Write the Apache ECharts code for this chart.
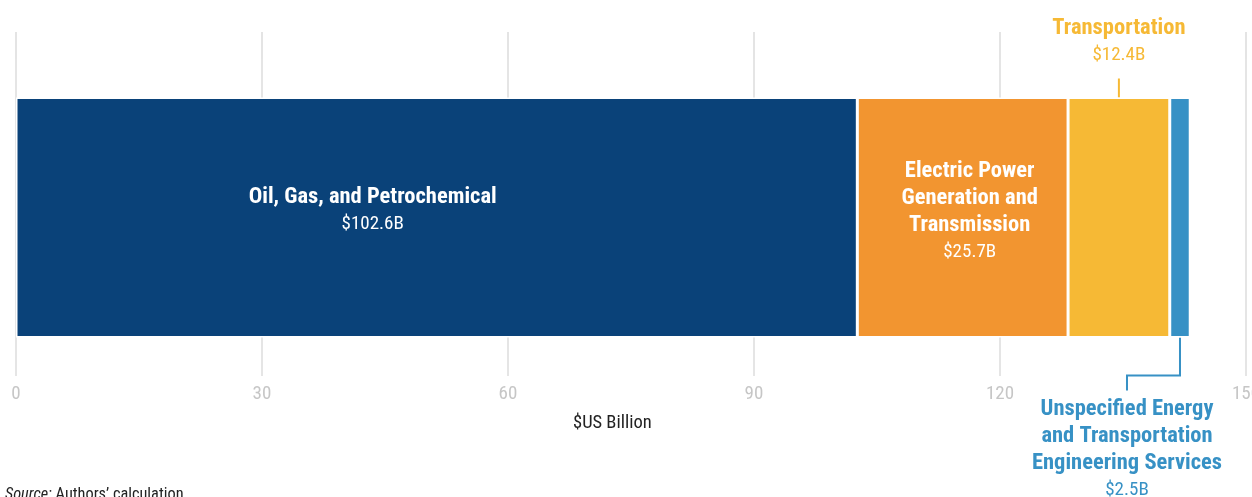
<!DOCTYPE html>
<html>
<head>
<meta charset="utf-8">
<script src="https://cdn.jsdelivr.net/npm/echarts@6/dist/echarts.min.js"></script>
<style>
  html, body { margin: 0; padding: 0; background: #fff; }
  #chart { width: 1252px; height: 497px; }
</style>
</head>
<body>
<div id="chart"></div>
<script>
// data
const categories = ['Total']
const sectors = [
  'Oil, Gas, and Petrochemical',
  'Electric Power\nGeneration and\nTransmission',
  'Transportation',
  'Unspecified Energy\nand Transportation\nEngineering Services'
]
const values = [102.6, 25.7, 12.4, 2.5]
const colors = ['#0a4279', '#f29530', '#f6b935', '#3791c5']
const xTicks = [0, 30, 60, 90, 120, 150]

const FONT = "'Roboto Condensed', 'Roboto', sans-serif"

// label placement per sector
const labelCfg = [
  { position: 'inside', offset: [-64, -7], color: '#fff' },
  { position: 'inside', offset: [7, -6], color: '#fff' },
  { position: 'top', offset: [0, 0], distance: 29, color: '#f6b935' },
  { position: 'bottom', offset: [-53, 0], distance: 58, color: '#3791c5' }
]

const chart = echarts.init(document.getElementById('chart'))

const series = values.map((v, i) => ({
  name: sectors[i],
  type: 'bar',
  stack: 'total',
  barWidth: 240,
  data: [v],
  itemStyle: { color: colors[i], borderColor: '#fff', borderWidth: 1.5 },
  label: {
    show: true,
    position: labelCfg[i].position,
    offset: labelCfg[i].offset,
    distance: labelCfg[i].distance || 5,
    align: 'center',
    formatter: () => '{b|' + sectors[i].split('\n').join('}\n{b|') + '}\n{v|$' + v + 'B}',
    rich: {
      b: { fontFamily: FONT, fontWeight: 'bold', fontSize: 22.5, lineHeight: 27, color: labelCfg[i].color },
      v: { fontFamily: FONT, fontSize: 19, lineHeight: 27, color: labelCfg[i].color }
    }
  },
  animation: false
}))

const tickFmt = v => xTicks.includes(v) ? String(v) : ''

chart.setOption({
  animation: false,
  grid: { left: 16, right: 6, top: 59, bottom: 121, containLabel: false, outerBoundsMode: 'none' },
  xAxis: [
    {
      type: 'value',
      min: 0,
      max: 150,
      interval: 30,
      axisLine: { show: false },
      axisTick: { show: false },
      splitLine: { show: true, lineStyle: { color: '#dcdcdc', width: 1.5 } },
      axisLabel: {
        margin: 9,
        color: '#c6c6c6',
        fontFamily: FONT,
        fontSize: 19,
        hideOverlap: false,
        formatter: tickFmt
      }
    },
    {
      // top copy of the scale: only its ticks, so the grid lines reach above the bar
      type: 'value',
      position: 'top',
      min: 0,
      max: 150,
      interval: 30,
      axisLine: { show: false },
      axisTick: { show: true, length: 27, lineStyle: { color: '#dcdcdc', width: 1.5 } },
      splitLine: { show: false },
      axisLabel: { show: false }
    }
  ],
  yAxis: {
    type: 'category',
    data: categories,
    axisLine: { show: false },
    axisTick: { show: false },
    axisLabel: { show: false }
  },
  series: series
})

// leader lines and notes, placed through the chart's own scales
function cumStart(i) {
  return values.slice(0, i).reduce((a, b) => a + b, 0)
}
const barHalf = 120
const mid = i => chart.convertToPixel({ xAxisIndex: 0, yAxisIndex: 0 }, [cumStart(i) + values[i] / 2, 0])

const pT = mid(2)
const pU = mid(3)

chart.setOption({
  graphic: [
    {
      type: 'line',
      shape: { x1: pT[0], y1: pT[1] - barHalf - 19, x2: pT[0], y2: pT[1] - barHalf },
      style: { stroke: colors[2], lineWidth: 2 }
    },
    {
      type: 'polyline',
      shape: {
        points: [
          [pU[0], pU[1] + barHalf],
          [pU[0], pU[1] + barHalf + 38],
          [pU[0] - 53, pU[1] + barHalf + 38],
          [pU[0] - 53, pU[1] + barHalf + 53]
        ]
      },
      style: { stroke: colors[3], lineWidth: 2, fill: null }
    },
    {
      type: 'text',
      left: 573,
      top: 414,
      style: { text: '$US Billion', fontFamily: FONT, fontSize: 18.5, fill: '#222' }
    },
    {
      type: 'text',
      left: 5,
      top: 487,
      style: {
        text: '{i|Source:} Authors\u2019 calculation',
        rich: {
          i: { fontFamily: FONT, fontStyle: 'italic', fontSize: 16.3, fill: '#222' }
        },
        fontFamily: FONT,
        fontSize: 16.3,
        fill: '#222'
      }
    }
  ]
})
</script>
</body>
</html>
